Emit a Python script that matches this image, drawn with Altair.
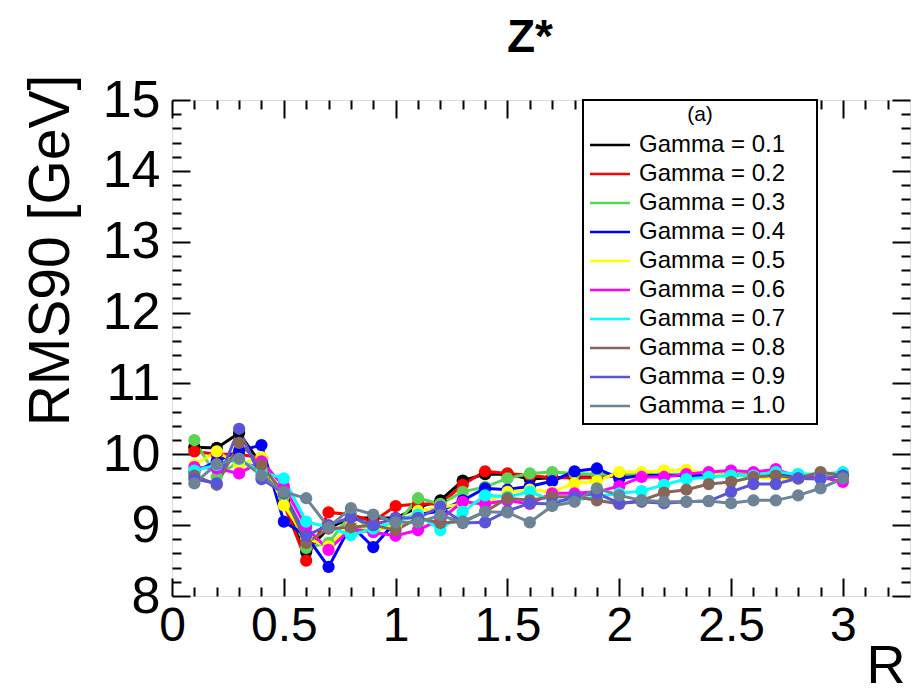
import altair as alt
import pandas as pd

R = [0.1, 0.2, 0.3, 0.4, 0.5, 0.6, 0.7, 0.8, 0.9, 1.0,
     1.1, 1.2, 1.3, 1.4, 1.5, 1.6, 1.7, 1.8, 1.9, 2.0,
     2.1, 2.2, 2.3, 2.4, 2.5, 2.6, 2.7, 2.8, 2.9, 3.0]

g01 = [10.10, 10.09, 10.30, 9.85, 9.35, 8.62, 8.96, 9.10, 9.10, 9.10,
       9.25, 9.35, 9.63, 9.72, 9.72, 9.65, 9.67, 9.68, 9.68, 9.70,
       9.70, 9.70, 9.70, 9.70, 9.70, 9.70, 9.70, 9.70, 9.70, 9.70]
g02 = [10.04, 10.00, 10.00, 9.95, 9.30, 8.50, 9.18, 9.15, 9.05, 9.27,
       9.30, 9.30, 9.57, 9.76, 9.73, 9.70, 9.67, 9.67, 9.67, 9.70,
       9.70, 9.70, 9.70, 9.70, 9.70, 9.70, 9.70, 9.70, 9.70, 9.70]
g03 = [10.20, 9.68, 9.90, 9.80, 9.40, 8.68, 8.75, 9.15, 8.92, 9.00,
       9.38, 9.30, 9.47, 9.54, 9.66, 9.73, 9.75, 9.73, 9.72, 9.72,
       9.72, 9.72, 9.72, 9.72, 9.72, 9.72, 9.72, 9.72, 9.72, 9.72]
g04 = [9.75, 9.90, 10.05, 10.13, 9.05, 8.85, 8.41, 9.00, 8.69, 9.05,
       9.15, 9.20, 9.35, 9.52, 9.50, 9.55, 9.62, 9.76, 9.80, 9.66,
       9.70, 9.70, 9.70, 9.70, 9.70, 9.70, 9.70, 9.70, 9.70, 9.70]
g05 = [9.85, 10.04, 9.85, 9.96, 9.28, 8.82, 8.70, 9.00, 8.92, 9.00,
       9.20, 9.25, 9.30, 9.30, 9.47, 9.50, 9.47, 9.59, 9.62, 9.75,
       9.75, 9.77, 9.78, 9.72, 9.70, 9.68, 9.65, 9.65, 9.67, 9.70]
g06 = [9.82, 9.80, 9.73, 9.90, 9.55, 8.97, 8.65, 8.95, 8.90, 8.85,
       8.93, 9.08, 9.33, 9.30, 9.35, 9.30, 9.45, 9.45, 9.47, 9.55,
       9.68, 9.68, 9.72, 9.75, 9.77, 9.75, 9.79, 9.68, 9.68, 9.61]
g07 = [9.77, 9.85, 9.93, 9.75, 9.66, 9.05, 8.97, 8.86, 8.95, 9.05,
       9.15, 8.93, 9.19, 9.42, 9.40, 9.47, 9.35, 9.35, 9.40, 9.45,
       9.48, 9.57, 9.65, 9.68, 9.70, 9.70, 9.75, 9.72, 9.72, 9.75]
g08 = [9.70, 9.57, 10.16, 9.85, 9.45, 8.75, 8.95, 8.97, 9.00, 8.93,
       9.10, 9.03, 9.05, 9.19, 9.38, 9.35, 9.40, 9.40, 9.35, 9.30,
       9.35, 9.46, 9.50, 9.58, 9.61, 9.68, 9.70, 9.66, 9.75, 9.70]
g09 = [9.65, 9.59, 10.36, 9.65, 9.45, 8.85, 9.00, 9.11, 9.00, 9.10,
       9.10, 9.26, 9.03, 9.04, 9.20, 9.31, 9.30, 9.40, 9.45, 9.31,
       9.33, 9.31, 9.33, 9.34, 9.47, 9.58, 9.58, 9.66, 9.65, 9.70]
g10 = [9.59, 9.86, 9.94, 9.70, 9.47, 9.38, 8.97, 9.24, 9.15, 9.04,
       9.04, 9.14, 9.04, 9.19, 9.18, 9.04, 9.27, 9.33, 9.52, 9.42,
       9.35, 9.33, 9.33, 9.34, 9.31, 9.35, 9.35, 9.42, 9.52, 9.66]

labels = ["Gamma = 0.1", "Gamma = 0.2", "Gamma = 0.3", "Gamma = 0.4", "Gamma = 0.5",
          "Gamma = 0.6", "Gamma = 0.7", "Gamma = 0.8", "Gamma = 0.9", "Gamma = 1.0"]
colors = ["#000000", "#ff0000", "#59d454", "#0000ff", "#ffff00",
          "#ff00ff", "#00ffff", "#876657", "#5954d9", "#6c8495"]
series = [g01, g02, g03, g04, g05, g06, g07, g08, g09, g10]

x_major = [0, 0.5, 1, 1.5, 2, 2.5, 3]
x_minor = [0.1, 0.2, 0.3, 0.4, 0.6, 0.7, 0.8, 0.9, 1.1, 1.2, 1.3, 1.4,
           1.6, 1.7, 1.8, 1.9, 2.1, 2.2, 2.3, 2.4, 2.6, 2.7, 2.8, 2.9, 3.1, 3.2]
y_major = [8, 9, 10, 11, 12, 13, 14, 15]
y_minor = [8.2, 8.4, 8.6, 8.8, 9.2, 9.4, 9.6, 9.8, 10.2, 10.4, 10.6, 10.8,
           11.2, 11.4, 11.6, 11.8, 12.2, 12.4, 12.6, 12.8, 13.2, 13.4, 13.6, 13.8,
           14.2, 14.4, 14.6, 14.8]

rows = []
for order, (lab, vals) in enumerate(zip(labels, series)):
    for r, v in zip(R, vals):
        rows.append({"R": r, "rms": v, "gamma": lab, "order": order})
df = pd.DataFrame(rows)

W, H = 738, 496
FONT = "Liberation Sans"

xs = alt.Scale(domain=[0, 3.3], nice=False, zero=False)
ys = alt.Scale(domain=[8, 15], nice=False, zero=False)
cs = alt.Scale(domain=labels, range=colors)

base = alt.Chart(df)

lines = base.mark_line(strokeWidth=3).encode(
    x=alt.X("R:Q", scale=xs, axis=alt.Axis(
        values=x_major, format="~g", ticks=False, domain=False, grid=False,
        labelFont=FONT, labelFontSize=48, labelColor="black", labelPadding=6,
        labelFlush=False, labelOverlap=False,
        title="R", titleFont=FONT, titleFontSize=54, titleFontWeight="normal",
        titleColor="black", titleAlign="right", titleAnchor="end",
        titleBaseline="alphabetic", titleX=733, titleY=86)),
    y=alt.Y("rms:Q", scale=ys, axis=alt.Axis(
        values=y_major, format="d", ticks=False, domain=False, grid=False,
        labelFont=FONT, labelFontSize=52, labelColor="black", labelPadding=12,
        labelOverlap=False,
        title="RMS90 [GeV]", titleFont=FONT, titleFontSize=57,
        titleFontWeight="normal", titleColor="black",
        titleBaseline="alphabetic", titleX=-104, titleY=150)),
    color=alt.Color("gamma:N", scale=cs, legend=alt.Legend(
        orient="none", legendX=426, legendY=33, title=None, padding=0,
        labelFont=FONT, labelFontSize=24, labelColor="black", labelOffset=17,
        labelLimit=300, symbolType="M-2,0H2", symbolSize=400,
        symbolStrokeWidth=2.5, rowPadding=5)),
    order=alt.Order("order:Q"),
)

points = base.mark_circle(size=150, opacity=1).encode(
    x=alt.X("R:Q", scale=xs, axis=None),
    y=alt.Y("rms:Q", scale=ys, axis=None),
    color=alt.Color("gamma:N", scale=cs, legend=None),
    order=alt.Order("order:Q"),
)


def tick_layer(xvals, yvals, size, xorient, yorient):
    return base.mark_point(opacity=0).encode(
        x=alt.X("R:Q", scale=xs, axis=alt.Axis(
            orient=xorient, offset=-H, values=xvals, labels=False, domain=False,
            grid=False, title=None, ticks=True, tickSize=size, tickWidth=2,
            tickColor="black")),
        y=alt.Y("rms:Q", scale=ys, axis=alt.Axis(
            orient=yorient, offset=-W, values=yvals, labels=False, domain=False,
            grid=False, title=None, ticks=True, tickSize=size, tickWidth=2,
            tickColor="black")),
    )


t1 = tick_layer(x_major, y_major, 18, "top", "right")
t2 = tick_layer(x_minor, y_minor, 9, "top", "right")
t3 = tick_layer(x_major, y_major, 18, "bottom", "left")
t4 = tick_layer(x_minor, y_minor, 9, "bottom", "left")

one = alt.Chart(pd.DataFrame({"k": [0]}))
box = one.mark_rect(fill="white", stroke="black", strokeWidth=2).encode(
    x=alt.value(411), x2=alt.value(645), y=alt.value(0), y2=alt.value(324))
tag = one.mark_text(text="(a)", font=FONT, fontSize=21, color="black",
                    baseline="middle", align="center").encode(
    x=alt.value(528), y=alt.value(15))

chart = alt.layer(lines, points, t1, t2, t3, t4, box, tag).resolve_axis(
    x="independent", y="independent"
).properties(
    width=W, height=H,
    title=alt.Title("Z*", font=FONT, fontSize=46, fontWeight="bold",
                    color="black", anchor="middle", dx=-11, dy=24, offset=0,
                    baseline="alphabetic"),
    autosize="none",
    padding={"left": 172, "top": 100, "right": 7, "bottom": 93},
).configure_view(stroke="black", strokeWidth=2).configure(background="white")

chart.save("out.html", embed_options={"renderer": "svg", "actions": False})
